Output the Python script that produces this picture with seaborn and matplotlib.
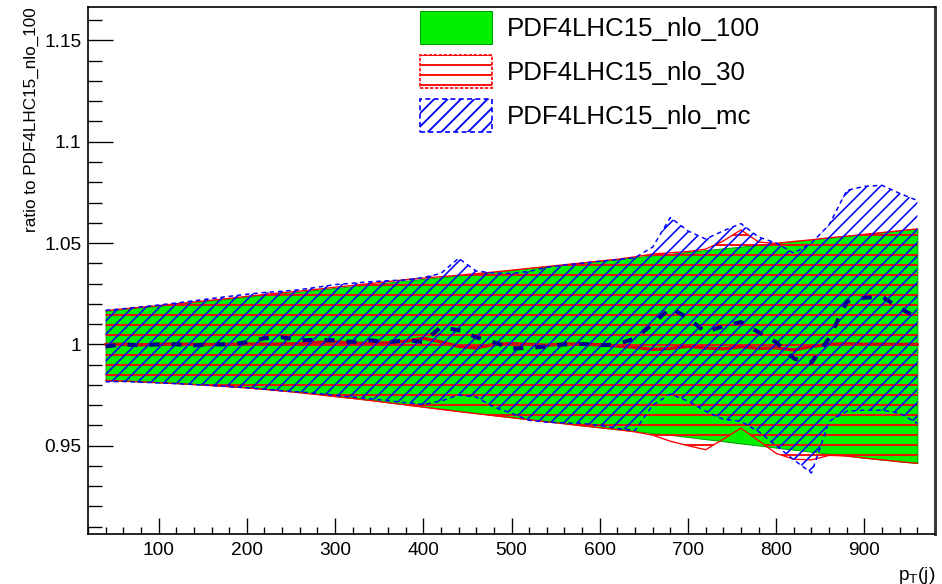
import matplotlib
matplotlib.use("Agg")
import matplotlib.pyplot as plt
from matplotlib.patches import Patch
from matplotlib.ticker import FixedLocator, FixedFormatter, MultipleLocator
import seaborn as sns

# ---------------- data ----------------
pt_bins = [40, 60, 80, 100, 120, 140, 160, 180, 200, 220,
           240, 260, 280, 300, 320, 340, 360, 380, 400, 420,
           440, 460, 480, 500, 520, 540, 560, 580, 600, 620,
           640, 660, 680, 700, 720, 740, 760, 780, 800, 820,
           840, 860, 880, 900, 920, 940, 960]

# PDF4LHC15_nlo_100 (reference, centre = 1)
nlo100_hi = [1.0165, 1.0174, 1.0182, 1.0190, 1.0199, 1.0208, 1.0217, 1.0226, 1.0235, 1.0244,
             1.0252, 1.0260, 1.0269, 1.0278, 1.0287, 1.0296, 1.0305, 1.0314, 1.0323, 1.0331,
             1.0340, 1.0349, 1.0358, 1.0367, 1.0376, 1.0385, 1.0394, 1.0403, 1.0412, 1.0421,
             1.0430, 1.0439, 1.0447, 1.0456, 1.0465, 1.0474, 1.0482, 1.0491, 1.0500, 1.0509,
             1.0518, 1.0527, 1.0535, 1.0544, 1.0553, 1.0562, 1.0571]
nlo100_lo = [0.9823, 0.9820, 0.9816, 0.9812, 0.9808, 0.9803, 0.9798, 0.9793, 0.9787, 0.9780,
             0.9772, 0.9764, 0.9755, 0.9745, 0.9735, 0.9725, 0.9714, 0.9704, 0.9693, 0.9682,
             0.9672, 0.9661, 0.9650, 0.9640, 0.9630, 0.9620, 0.9610, 0.9600, 0.9590, 0.9581,
             0.9572, 0.9562, 0.9553, 0.9543, 0.9532, 0.9522, 0.9511, 0.9501, 0.9490, 0.9480,
             0.9470, 0.9460, 0.9450, 0.9440, 0.9431, 0.9422, 0.9414]

# PDF4LHC15_nlo_30
nlo30_mid = [1.0000, 1.0000, 0.9998, 1.0000, 1.0001, 1.0000, 0.9999, 1.0000, 1.0002, 1.0001,
             1.0002, 1.0003, 1.0010, 1.0012, 1.0006, 1.0004, 1.0008, 1.0015, 1.0030, 1.0012,
             0.9990, 0.9982, 1.0000, 1.0004, 1.0000, 0.9996, 1.0002, 1.0001, 0.9998, 0.9992,
             0.9985, 0.9975, 0.9980, 0.9990, 0.9982, 0.9978, 0.9988, 0.9980, 0.9983, 0.9972,
             0.9990, 1.0000, 1.0003, 1.0000, 1.0001, 1.0000, 1.0000]
nlo30_hi = [1.0166, 1.0175, 1.0183, 1.0191, 1.0200, 1.0209, 1.0218, 1.0227, 1.0237, 1.0246,
            1.0255, 1.0263, 1.0272, 1.0282, 1.0291, 1.0300, 1.0310, 1.0319, 1.0327, 1.0334,
            1.0341, 1.0349, 1.0357, 1.0366, 1.0375, 1.0384, 1.0393, 1.0402, 1.0411, 1.0420,
            1.0432, 1.0446, 1.0452, 1.0458, 1.0470, 1.0510, 1.0565, 1.0505, 1.0498, 1.0508,
            1.0516, 1.0526, 1.0534, 1.0543, 1.0552, 1.0561, 1.0570]
nlo30_lo = [0.9822, 0.9819, 0.9815, 0.9811, 0.9807, 0.9802, 0.9797, 0.9791, 0.9785, 0.9778,
            0.9770, 0.9761, 0.9752, 0.9742, 0.9733, 0.9723, 0.9712, 0.9701, 0.9690, 0.9679,
            0.9668, 0.9658, 0.9648, 0.9638, 0.9628, 0.9618, 0.9608, 0.9598, 0.9589, 0.9579,
            0.9568, 0.9552, 0.9522, 0.9500, 0.9480, 0.9532, 0.9586, 0.9525, 0.9462, 0.9433,
            0.9430, 0.9452, 0.9449, 0.9439, 0.9430, 0.9421, 0.9413]

# PDF4LHC15_nlo_mc
mc_mid = [0.9990, 1.0000, 0.9995, 1.0000, 1.0000, 0.9995, 1.0000, 1.0000, 1.0010, 1.0030,
          1.0035, 1.0020, 1.0022, 1.0020, 1.0012, 1.0020, 1.0010, 1.0020, 1.0012, 1.0085,
          1.0070, 1.0035, 1.0010, 0.9980, 0.9982, 0.9990, 1.0000, 1.0002, 0.9995, 1.0000,
          1.0030, 1.0100, 1.0180, 1.0130, 1.0060, 1.0090, 1.0110, 1.0060, 1.0010, 0.9930,
          0.9910, 1.0030, 1.0210, 1.0230, 1.0235, 1.0180, 1.0130]
mc_hi = [1.0168, 1.0176, 1.0185, 1.0194, 1.0204, 1.0215, 1.0226, 1.0237, 1.0247, 1.0256,
         1.0262, 1.0270, 1.0282, 1.0295, 1.0302, 1.0309, 1.0314, 1.0318, 1.0330, 1.0350,
         1.0425, 1.0362, 1.0352, 1.0350, 1.0360, 1.0380, 1.0392, 1.0400, 1.0410, 1.0418,
         1.0428, 1.0480, 1.0626, 1.0560, 1.0520, 1.0560, 1.0596, 1.0530, 1.0500, 1.0450,
         1.0500, 1.0590, 1.0760, 1.0780, 1.0785, 1.0745, 1.0710]
mc_lo = [0.9815, 0.9817, 0.9813, 0.9810, 0.9806, 0.9802, 0.9797, 0.9792, 0.9786, 0.9779,
         0.9771, 0.9765, 0.9758, 0.9748, 0.9740, 0.9731, 0.9722, 0.9712, 0.9703, 0.9720,
         0.9750, 0.9740, 0.9690, 0.9660, 0.9625, 0.9616, 0.9612, 0.9610, 0.9600, 0.9585,
         0.9575, 0.9700, 0.9755, 0.9720, 0.9670, 0.9630, 0.9620, 0.9570, 0.9500, 0.9430,
         0.9365, 0.9620, 0.9670, 0.9675, 0.9675, 0.9660, 0.9610]

series_names = ["PDF4LHC15_nlo_100", "PDF4LHC15_nlo_30", "PDF4LHC15_nlo_mc"]

x_ticks = [100, 200, 300, 400, 500, 600, 700, 800, 900]
x_tick_labels = ["100", "200", "300", "400", "500", "600", "700", "800", "900"]
y_ticks = [0.95, 1.0, 1.05, 1.1, 1.15]
y_tick_labels = ["0.95", "1", "1.05", "1.1", "1.15"]


def main():
    sns.set_theme(style="white")
    plt.rcParams["font.family"] = ["Liberation Sans", "DejaVu Sans"]
    plt.rcParams["hatch.linewidth"] = 1.1
    plt.rcParams["text.color"] = "black"
    plt.rcParams["axes.labelcolor"] = "black"

    green = "#00f000"
    red = "#ff0000"
    blue = "#0000ff"

    fig = plt.figure(figsize=(942 / 120, 584 / 120), dpi=120)
    ax = fig.add_axes([88 / 942, 50 / 584, 847 / 942, 527 / 584])

    # ============ nlo_100 : solid green ============
    ax.fill_between(pt_bins, nlo100_lo, nlo100_hi, facecolor=green,
                    edgecolor="#00a000", linewidth=0.6, zorder=1)

    # ============ nlo_30 : red horizontal hatch ============
    ax.fill_between(pt_bins, nlo30_lo, nlo30_hi, facecolor="none",
                    edgecolor=red, hatch="--", linewidth=0, zorder=2)
    for edge in (nlo30_lo, nlo30_hi):
        sns.lineplot(x=pt_bins, y=edge, ax=ax, color=red, lw=0.8,
                     estimator=None, sort=False, zorder=3)
    sns.lineplot(x=pt_bins, y=nlo30_mid, ax=ax, color="#cc1010", lw=2.0,
                 estimator=None, sort=False, zorder=4)

    # ============ nlo_mc : blue diagonal hatch ============
    with plt.rc_context({"hatch.linewidth": 0.95}):
        ax.fill_between(pt_bins, mc_lo, mc_hi, facecolor="none",
                        edgecolor=blue, hatch="///", linewidth=0, zorder=5)
    for edge in (mc_lo, mc_hi):
        sns.lineplot(x=pt_bins, y=edge, ax=ax, color=blue, lw=0.9,
                     linestyle=(0, (3, 2.5)), estimator=None, sort=False, zorder=6)
    sns.lineplot(x=pt_bins, y=mc_mid, ax=ax, color="#00008c", lw=2.4,
                 linestyle=(0, (2.5, 3)), estimator=None, sort=False, zorder=7)

    # ============ axes ============
    ax.set_xlim(20, 980)
    ax.set_ylim(0.9064, 1.1665)

    ax.xaxis.set_major_locator(FixedLocator(x_ticks))
    ax.xaxis.set_major_formatter(FixedFormatter(x_tick_labels))
    ax.xaxis.set_minor_locator(MultipleLocator(20))
    ax.yaxis.set_major_locator(FixedLocator(y_ticks))
    ax.yaxis.set_major_formatter(FixedFormatter(y_tick_labels))
    ax.yaxis.set_minor_locator(MultipleLocator(0.01))

    ax.tick_params(axis="both", which="both", direction="in", color="black",
                   labelsize=11.5, labelcolor="black", width=0.8,
                   bottom=True, left=True, top=False, right=False)
    ax.tick_params(axis="x", which="major", length=9.5, pad=5)
    ax.tick_params(axis="x", which="minor", length=4.5)
    ax.tick_params(axis="y", which="major", length=15, pad=4)
    ax.tick_params(axis="y", which="minor", length=8.3)

    for side in ("left", "bottom", "top"):
        ax.spines[side].set_color("black")
        ax.spines[side].set_linewidth(1.0)
    ax.spines["right"].set_color("#3a3a3a")
    ax.spines["right"].set_linewidth(1.8)

    ax.set_ylabel("ratio to PDF4LHC15_nlo_100", fontsize=10.3, loc="top")
    ax.yaxis.set_label_coords(-0.058, 1.0)
    ax.set_xlabel(r"p$_\mathregular{T}$(j)", fontsize=11.5, loc="right")
    ax.xaxis.set_label_coords(1.0, -0.058)

    with plt.rc_context({"hatch.linewidth": 0.95}):
        mc_handle = Patch(facecolor="white", edgecolor=blue, hatch="///", linewidth=1.0,
                          linestyle=(0, (3, 2)))
    handles = [
        Patch(facecolor=green, edgecolor="#00a000", linewidth=0.6),
        Patch(facecolor="white", edgecolor=red, hatch="--", linewidth=1.0,
              linestyle=(0, (2, 1))),
        mc_handle,
    ]
    ax.legend(handles, series_names, loc="upper left",
              bbox_to_anchor=(420 / 942, 1 - 11 / 584), bbox_transform=fig.transFigure,
              frameon=False, fontsize=15.5, labelcolor="black",
              borderpad=0, borderaxespad=0,
              handlelength=2.79, handleheight=1.59, handletextpad=0.58,
              labelspacing=0.43)

    fig.savefig("out.png", dpi=120, facecolor="white")
    plt.close(fig)


if __name__ == "__main__":
    main()
